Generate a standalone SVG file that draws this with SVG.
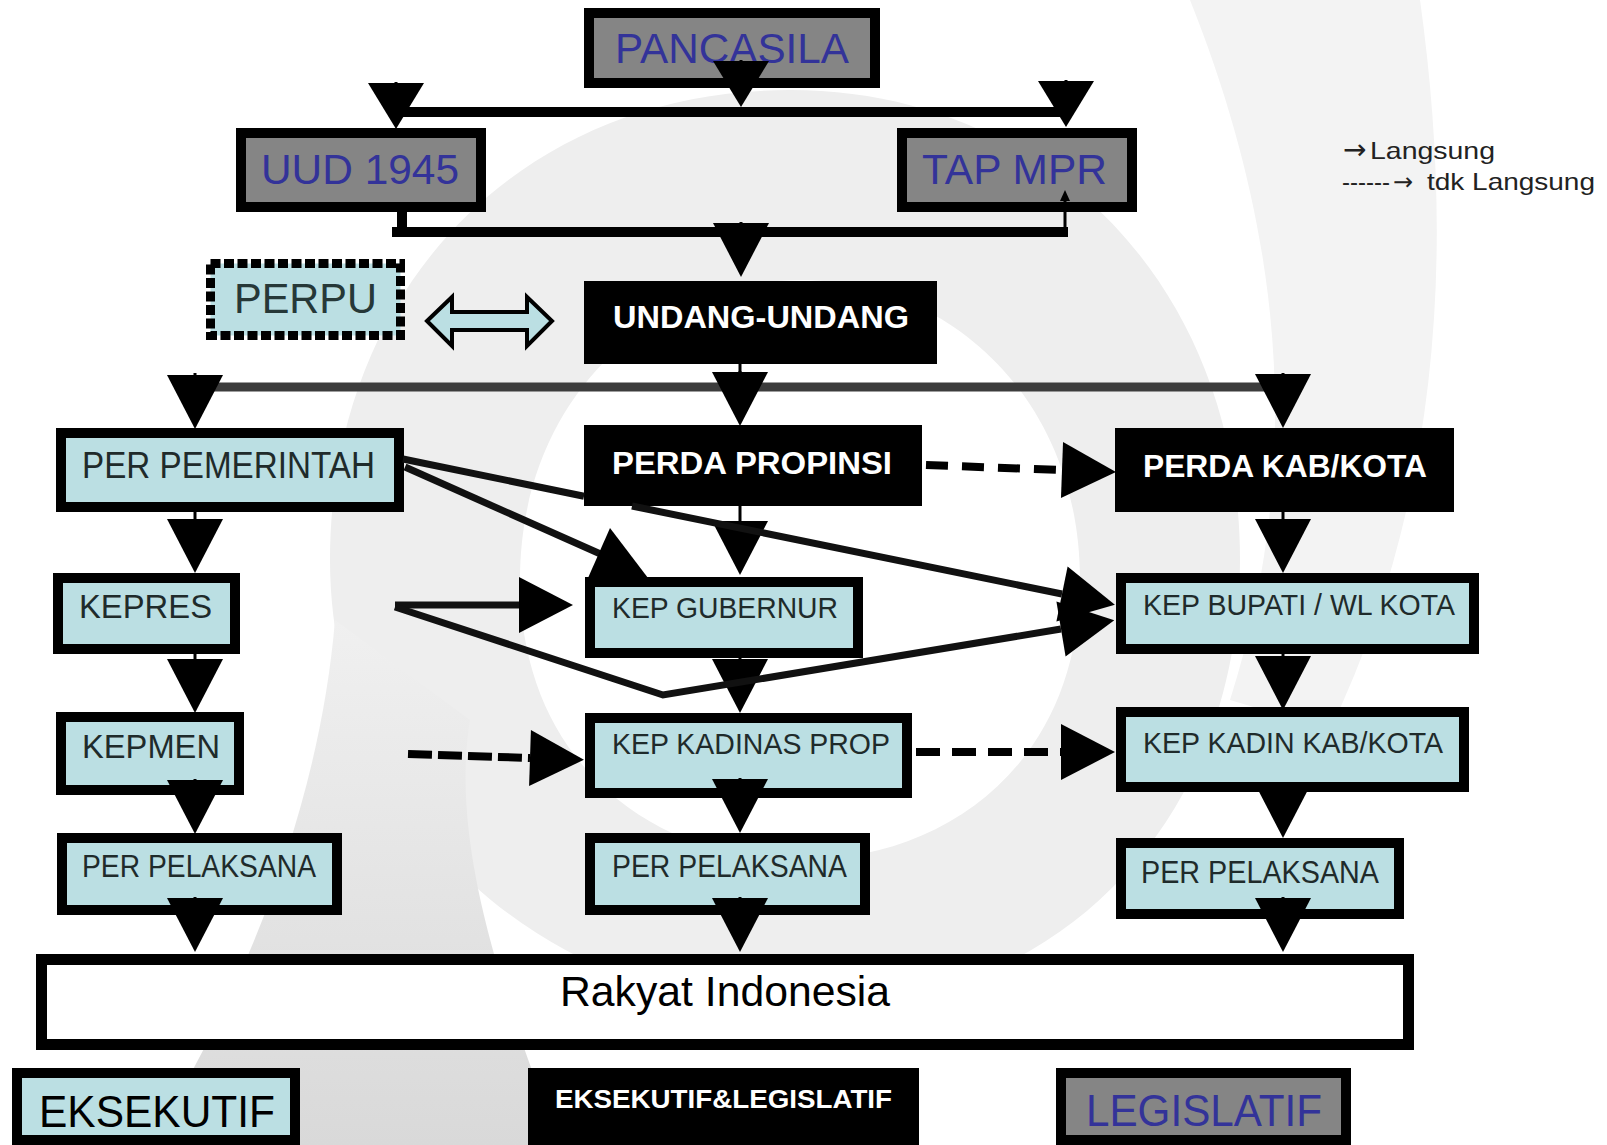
<svg xmlns="http://www.w3.org/2000/svg" width="1607" height="1145" viewBox="0 0 1607 1145">
<style>
  text { font-family: "Liberation Sans", Arial, sans-serif; }
  .arr { font-family: "DejaVu Sans", sans-serif; }
  .lb { fill: #bbdfe3; stroke: #000; stroke-width: 10; }
  .gr { fill: #858585; stroke: #000; stroke-width: 10; }
  .bk { fill: #000; }
  .dot { fill: #bbdfe3; stroke: #000; stroke-width: 9; stroke-dasharray: 10 3.5; }
  .t-lb { fill: #1f2b2b; }
  .t-gr { fill: #333399; }
  .t-bk { fill: #fff; font-weight: bold; }
  .note { fill: #222; font-size: 24px; }
  .thin { fill: none; stroke: #000; stroke-width: 3; }
  .thick { fill: none; stroke: #000; stroke-width: 10; }
  .diag { fill: none; stroke: #111; stroke-width: 7; }
  .grayline { fill: none; stroke: #3c3c3c; stroke-width: 9; }
  .dash { fill: none; stroke: #000; stroke-width: 8; }
  .head { fill: #000; }
  .wm1 { fill: #eeeeee; }
  .wm2 { fill: #f3f3f3; }
</style>
<defs>
  <marker id="tri" markerUnits="userSpaceOnUse" markerWidth="54" markerHeight="56" refX="0" refY="28" orient="auto" overflow="visible">
    <path d="M0,0 L54,28 L0,56 Z" fill="#000" stroke="none"/>
  </marker>
  <marker id="triS" markerUnits="userSpaceOnUse" markerWidth="46" markerHeight="56" refX="0" refY="28" orient="auto" overflow="visible">
    <path d="M0,0 L46,28 L0,56 Z" fill="#000" stroke="none"/>
  </marker>
  <linearGradient id="tail" x1="0" y1="0" x2="0" y2="1">
    <stop offset="0" stop-color="#f0f0f0"/>
    <stop offset="1" stop-color="#d9d9d9"/>
  </linearGradient>
</defs>
<rect width="1607" height="1145" fill="#fff"/>
<g id="watermark">
  <path class="wm1" d="M790,90 C1050,90 1240,290 1240,560 C1240,820 1060,1010 800,1010 C560,1010 330,830 330,560 C330,290 520,90 790,90 Z M800,280 C650,280 520,400 520,580 C520,760 650,860 800,860 C950,860 1080,760 1080,580 C1080,400 950,280 800,280 Z"/>
  <path class="wm2" d="M1190,0 L1420,0 C1455,250 1440,500 1330,730 L1230,700 C1300,480 1290,250 1190,0 Z"/>
  <path fill="url(#tail)" d="M335,620 C320,800 250,980 150,1145 L560,1145 C500,990 450,840 470,720 Z"/>
</g>
<g id="legend-note">
  <text class="note" x="1343" y="159"><tspan class="arr" font-size="28">→</tspan><tspan x="1370" textLength="125" lengthAdjust="spacingAndGlyphs">Langsung</tspan></text>
  <text class="note" x="1342" y="190" textLength="48" lengthAdjust="spacingAndGlyphs">------</text>
  <text class="note arr" x="1393" y="190" font-size="28">→</text>
  <text class="note" x="1427" y="190" textLength="168" lengthAdjust="spacingAndGlyphs">tdk Langsung</text>
</g>
<g id="n-pancasila"><rect class="gr" x="589" y="13" width="286" height="70"/><text class="t-gr" x="615" y="63" font-size="42" textLength="234" lengthAdjust="spacingAndGlyphs">PANCASILA</text></g>
<g id="n-uud"><rect class="gr" x="241" y="133" width="240" height="74"/><text class="t-gr" x="261" y="184" font-size="42" textLength="198" lengthAdjust="spacingAndGlyphs">UUD 1945</text></g>
<g id="n-tapmpr"><rect class="gr" x="902" y="133" width="230" height="74"/><text class="t-gr" x="922" y="184" font-size="42" textLength="185" lengthAdjust="spacingAndGlyphs">TAP MPR</text></g>
<g id="n-perpu"><rect class="dot" x="210.5" y="263.5" width="190" height="72"/><text x="234" y="313" font-size="42" fill="#263838" textLength="143" lengthAdjust="spacingAndGlyphs">PERPU</text></g>
<g id="n-uu"><rect class="bk" x="584" y="281" width="353" height="83"/><text class="t-bk" x="613" y="328" font-size="31" textLength="296" lengthAdjust="spacingAndGlyphs">UNDANG-UNDANG</text></g>
<g id="n-perpem"><rect class="lb" x="61" y="433" width="338" height="74"/><text class="t-lb" x="82" y="478" font-size="36" textLength="293" lengthAdjust="spacingAndGlyphs">PER PEMERINTAH</text></g>
<g id="n-perdaprop"><rect class="bk" x="584" y="425" width="338" height="81"/><text class="t-bk" x="612" y="474" font-size="32" textLength="280" lengthAdjust="spacingAndGlyphs">PERDA PROPINSI</text></g>
<g id="n-perdakab"><rect class="bk" x="1115" y="428" width="339" height="84"/><text class="t-bk" x="1143" y="477" font-size="32" textLength="284" lengthAdjust="spacingAndGlyphs">PERDA KAB/KOTA</text></g>
<g id="n-kepres"><rect class="lb" x="58" y="578" width="177" height="71"/><text class="t-lb" x="79" y="618" font-size="34" textLength="133" lengthAdjust="spacingAndGlyphs">KEPRES</text></g>
<g id="n-kepgub"><rect class="lb" x="590" y="582" width="268" height="71"/><text class="t-lb" x="612" y="618" font-size="29" textLength="226" lengthAdjust="spacingAndGlyphs">KEP GUBERNUR</text></g>
<g id="n-kepbup"><rect class="lb" x="1121" y="578" width="353" height="71"/><text class="t-lb" x="1143" y="615" font-size="29" textLength="312" lengthAdjust="spacingAndGlyphs">KEP BUPATI / WL KOTA</text></g>
<g id="n-kepmen"><rect class="lb" x="61" y="717" width="178" height="73"/><text class="t-lb" x="82" y="758" font-size="34" textLength="138" lengthAdjust="spacingAndGlyphs">KEPMEN</text></g>
<g id="n-kepkadinas"><rect class="lb" x="590" y="718" width="317" height="75"/><text class="t-lb" x="612" y="754" font-size="29" textLength="278" lengthAdjust="spacingAndGlyphs">KEP KADINAS PROP</text></g>
<g id="n-kepkadin"><rect class="lb" x="1121" y="712" width="343" height="75"/><text class="t-lb" x="1143" y="753" font-size="29" textLength="300" lengthAdjust="spacingAndGlyphs">KEP KADIN KAB/KOTA</text></g>
<g id="n-perpel1"><rect class="lb" x="62" y="838" width="275" height="72"/><text class="t-lb" x="82" y="877" font-size="31" textLength="234" lengthAdjust="spacingAndGlyphs">PER PELAKSANA</text></g>
<g id="n-perpel2"><rect class="lb" x="590" y="838" width="275" height="72"/><text class="t-lb" x="612" y="877" font-size="31" textLength="235" lengthAdjust="spacingAndGlyphs">PER PELAKSANA</text></g>
<g id="n-perpel3"><rect class="lb" x="1121" y="843" width="278" height="71"/><text class="t-lb" x="1141" y="883" font-size="31" textLength="238" lengthAdjust="spacingAndGlyphs">PER PELAKSANA</text></g>
<g id="n-rakyat"><rect x="41.5" y="959.5" width="1367" height="85" fill="#fff" stroke="#000" stroke-width="11"/><text x="560" y="1006" font-size="43" fill="#000" textLength="330" lengthAdjust="spacingAndGlyphs">Rakyat Indonesia</text></g>
<g id="k-eksekutif"><rect class="lb" x="17" y="1073" width="278" height="67"/><text x="39" y="1127" font-size="44" fill="#000" textLength="236" lengthAdjust="spacingAndGlyphs">EKSEKUTIF</text></g>
<g id="k-ekslegis"><rect class="bk" x="528" y="1068" width="391" height="77"/><text class="t-bk" x="555" y="1108" font-size="26" textLength="337" lengthAdjust="spacingAndGlyphs">EKSEKUTIF&amp;LEGISLATIF</text></g>
<g id="k-legislatif"><rect class="gr" x="1061" y="1073" width="285" height="67"/><text class="t-gr" x="1086" y="1126" font-size="44" textLength="236" lengthAdjust="spacingAndGlyphs">LEGISLATIF</text></g>
<g id="connectors">
  <path class="thick" d="M396,112 H1066"/>
  <path class="thin" d="M396,82 V83" marker-end="url(#triS)"/>
  <path class="thin" d="M741,60 V61" marker-end="url(#triS)"/>
  <path class="thin" d="M1066,80 V81" marker-end="url(#triS)"/>
  <path class="thick" d="M402,207 V232" stroke-width="9"/>
  <path class="thick" d="M392,232 H1068"/>
  <path class="thin" d="M1065,236 V198"/>
  <polygon class="head" points="1060,201 1065,190 1070,201"/>
  <path class="thin" d="M741,222 V223" marker-end="url(#tri)"/>
  <path class="thin" d="M740,364 V387"/>
  <path class="grayline" d="M195,387 H1283"/>
  <path class="thin" d="M195,373 V375" marker-end="url(#tri)"/>
  <path class="thin" d="M740,371 V372" marker-end="url(#tri)"/>
  <path class="thin" d="M1283,373 V374" marker-end="url(#tri)"/>
  <path class="thin" d="M195,512 V519" marker-end="url(#tri)"/>
  <path class="thin" d="M195,654 V659" marker-end="url(#tri)"/>
  <path class="thin" d="M195,779 V780" marker-end="url(#tri)"/>
  <path class="thin" d="M195,897 V898" marker-end="url(#tri)"/>
  <path class="thin" d="M740,506 V521" marker-end="url(#tri)"/>
  <path class="thin" d="M740,658 V659" marker-end="url(#tri)"/>
  <path class="thin" d="M740,778 V779" marker-end="url(#tri)"/>
  <path class="thin" d="M740,897 V898" marker-end="url(#tri)"/>
  <path class="thin" d="M1283,512 V519" marker-end="url(#tri)"/>
  <path class="thin" d="M1283,654 V656" marker-end="url(#tri)"/>
  <path class="thin" d="M1283,783 V784" marker-end="url(#tri)"/>
  <path class="thin" d="M1283,897 V898" marker-end="url(#tri)"/>
  <path class="diag" d="M403,459 L584,496.3 M632,506 L1062,594" marker-end="url(#tri)"/>
  <path class="diag" d="M405,467 L605,556"/>
  <polygon class="head" points="610,528 588,578 648,578"/>
  <path class="diag" d="M395,605 H519" stroke="#333" stroke-width="8" marker-end="url(#tri)"/>
  <path class="diag" d="M395,607 L663,695 L1061,629" marker-end="url(#tri)"/>
  <path class="dash" d="M926,465 L1062,470" stroke-dasharray="22 14" marker-end="url(#tri)"/>
  <path class="dash" d="M408,754 L530,758" stroke-width="9" stroke-dasharray="24 6" marker-end="url(#tri)"/>
  <path class="dash" d="M916,752 L1061,752" stroke-dasharray="24 12" marker-end="url(#tri)"/>
  <path d="M427,321 L452,297 L452,312 L527,312 L527,297 L552,321 L527,346 L527,330 L452,330 L452,346 Z" fill="#bbdfe3" stroke="#000" stroke-width="4" stroke-linejoin="miter"/>
</g>
</svg>
